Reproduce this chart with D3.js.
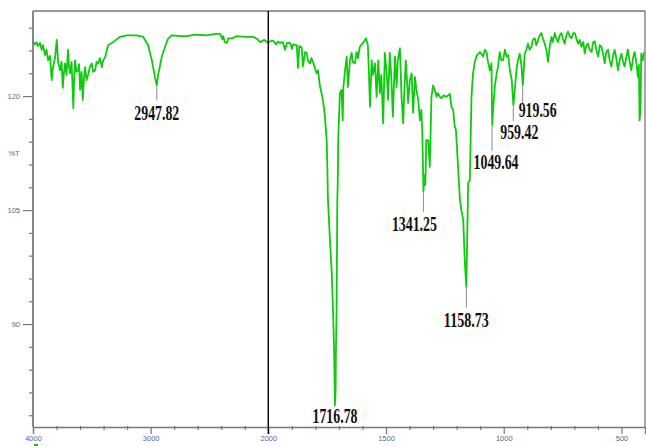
<!DOCTYPE html>
<html>
<head>
<meta charset="utf-8">
<script src="https://cdn.jsdelivr.net/npm/d3@7"></script>
<style>
  html, body { margin: 0; padding: 0; background: #fff; }
  svg { display: block; }
</style>
</head>
<body>
<script>
// ---- DATA ----
// spectrum, 4000-2000 cm-1 : [wavenumber, %T]
const spectrumHigh = [[4000,127.2],[3983,126.8],[3970,127.1],[3957,126.6],[3940,127.0],[3926,126.1],[3915,126.7],[3898,125.4],[3885,126.1],[3872,124.7],[3855,125.3],[3841,122.1],[3830,123.8],[3813,125.0],[3798,127.4],[3787,124.5],[3770,123.4],[3757,124.5],[3747,121.1],[3736,123.2],[3728,124.3],[3715,122.8],[3702,126.1],[3694,123.9],[3685,123.0],[3672,124.5],[3657,118.4],[3651,122.1],[3643,124.7],[3630,123.2],[3617,123.4],[3608,124.2],[3600,120.8],[3587,123.2],[3577,119.5],[3566,122.6],[3557,123.8],[3545,122.1],[3532,122.8],[3515,123.9],[3500,124.3],[3489,123.2],[3472,123.4],[3460,124.5],[3447,124.3],[3430,125.0],[3415,123.8],[3404,124.7],[3387,125.1],[3362,126.7],[3319,127.1],[3260,127.8],[3203,128.0],[3117,128.0],[3064,127.8],[3021,126.7],[2990,124.7],[2962,122.4],[2948,121.4],[2936,122.8],[2905,125.2],[2877,126.5],[2851,127.6],[2819,128.0],[2749,127.9],[2692,127.9],[2621,128.1],[2522,128.0],[2451,128.2],[2408,128.2],[2391,127.5],[2383,127.9],[2370,127.1],[2351,127.0],[2340,127.6],[2309,127.6],[2266,127.9],[2196,127.8],[2128,127.8],[2094,127.5],[2068,127.1],[2034,127.4],[2000,127.0]];
// spectrum, 2000-400 cm-1 : [wavenumber, %T]
const spectrumLow = [[1993,127.2],[1980,127.3],[1967,126.8],[1959,127.2],[1950,127.0],[1938,127.1],[1929,126.1],[1921,127.0],[1908,127.0],[1899,126.2],[1895,126.8],[1879,126.7],[1874,123.7],[1868,126.6],[1858,126.4],[1853,123.9],[1844,125.8],[1837,125.7],[1832,124.7],[1823,124.3],[1817,125.0],[1810,124.5],[1802,123.7],[1795,123.0],[1789,123.4],[1781,121.4],[1768,119.5],[1760,117.5],[1752,114.2],[1749,110.3],[1747,106.7],[1738,101.0],[1731,97.1],[1725,91.8],[1720,85.7],[1717,79.3],[1714,81.3],[1713,85.7],[1710,91.8],[1707,105.9],[1704,110.3],[1703,114.2],[1696,120.4],[1689,120.8],[1684,116.8],[1681,121.2],[1674,123.4],[1667,125.2],[1662,121.2],[1653,124.7],[1646,125.7],[1641,124.5],[1632,124.3],[1625,125.8],[1619,125.0],[1611,126.5],[1598,127.0],[1585,127.6],[1577,126.7],[1573,123.4],[1568,118.6],[1561,124.7],[1556,122.8],[1547,124.3],[1540,119.9],[1533,124.7],[1526,120.4],[1520,122.8],[1512,116.4],[1505,125.7],[1498,123.4],[1491,119.5],[1484,125.7],[1477,122.1],[1471,117.3],[1462,125.2],[1455,121.2],[1450,124.7],[1441,126.3],[1434,119.9],[1427,116.4],[1422,120.8],[1416,124.7],[1411,122.1],[1406,119.1],[1399,122.1],[1391,123.0],[1385,117.8],[1377,122.5],[1371,120.8],[1363,119.5],[1356,116.8],[1350,118.2],[1346,115.5],[1341,107.4],[1337,109.6],[1333,108.3],[1329,114.2],[1321,114.2],[1314,110.7],[1307,119.9],[1300,121.4],[1293,120.8],[1285,119.9],[1280,120.4],[1271,119.9],[1264,119.7],[1256,120.1],[1243,119.9],[1229,120.3],[1222,118.6],[1215,118.2],[1208,116.0],[1203,115.5],[1194,110.7],[1186,106.3],[1180,105.0],[1172,103.7],[1165,98.0],[1159,94.9],[1155,101.5],[1151,108.6],[1144,108.9],[1137,119.9],[1131,122.8],[1123,124.5],[1114,125.4],[1101,125.8],[1088,125.2],[1080,126.1],[1073,125.8],[1068,124.7],[1059,123.4],[1052,124.3],[1049,116.2],[1045,118.2],[1038,121.2],[1031,122.8],[1024,123.9],[1017,125.8],[1010,124.7],[1003,124.7],[995,126.1],[988,125.2],[981,125.4],[974,123.4],[966,122.1],[959,118.8],[953,120.8],[946,123.4],[940,124.7],[932,125.6],[925,124.1],[919,121.4],[915,123.4],[911,125.6],[904,126.1],[897,126.9],[890,126.1],[882,126.5],[877,127.4],[868,127.6],[862,126.7],[854,127.4],[847,128.0],[840,128.3],[834,127.6],[826,126.9],[819,126.1],[812,124.5],[804,126.7],[797,127.8],[792,127.1],[783,128.3],[777,127.6],[769,127.1],[762,128.0],[755,128.3],[749,127.6],[741,126.9],[734,128.0],[727,128.5],[720,127.9],[712,127.6],[705,128.3],[698,128.3],[690,127.4],[684,126.9],[677,127.4],[670,126.5],[662,127.1],[656,125.6],[649,126.7],[642,126.9],[635,126.1],[627,125.8],[620,127.1],[613,127.2],[607,126.1],[599,125.2],[592,126.7],[585,126.5],[577,125.4],[571,124.3],[565,125.8],[557,126.1],[550,124.7],[543,123.9],[535,125.4],[529,126.1],[522,125.0],[515,123.4],[508,124.7],[500,125.6],[493,124.5],[487,123.9],[480,125.0],[473,126.1],[465,124.5],[458,123.4],[451,125.0],[444,125.8],[438,124.7],[430,122.5],[426,124.1],[423,116.8],[419,118.2],[416,125.6],[410,124.7],[404,125.8]];

// peak annotations
const peakLabels = ["2947.82","1716.78","1341.25","1158.73","1049.64","959.42","919.56"];
const peakWn     = [2947.82, 1716.78, 1341.25, 1158.73, 1049.64, 959.42, 919.56];
const peakT      = [121.4, 79.3, 107.4, 94.9, 116.2, 118.8, 121.4];

// axis ticks
const xMajorTicks = [4000, 3000, 2000, 1500, 1000, 500];
const xMinorTicks = [3800,3600,3400,3200,2800,2600,2400,2200,1900,1800,1700,1600,1400,1300,1200,1100,900,800,700,600];
const yMajorTicks = [90, 105, 120];
const yMinorTicks = [78,81,84,87,93,96,99,102,108,111,114,117,123,126,129];
const yLabel = "%T";
const xUnit = "1/cm";

// ---- LAYOUT ----
const W = 646, H = 446;
const mLeft = 33, mRight = 645, mTop = 11, mBottom = 427;

const x = d3.scaleLinear().domain([4000, 2000, 400]).range([mLeft, 268.3, mRight]);
const y = d3.scaleLinear().domain([76.45, 131.2]).range([mBottom, mTop]);

const svg = d3.select("body").append("svg").attr("width", W).attr("height", H);

const axisColor = "#777";
const labelColor = "#55688c";

// frame (top and right)
svg.append("line").attr("x1", mLeft).attr("x2", mRight).attr("y1", mTop).attr("y2", mTop)
  .attr("stroke", axisColor).attr("stroke-width", 1.3);
svg.append("line").attr("x1", mRight).attr("x2", mRight).attr("y1", mTop).attr("y2", mBottom)
  .attr("stroke", axisColor).attr("stroke-width", 1.3);

// spectrum line
const line = d3.line().x(d => x(d[0])).y(d => y(d[1]));
const allPts = spectrumHigh.concat(spectrumLow);
svg.append("path").datum(allPts)
  .attr("d", line)
  .attr("fill", "none")
  .attr("stroke", "#0fcb0f")
  .attr("stroke-width", 1.8)
  .attr("stroke-linejoin", "round");

// x axis: minor
const gxMinor = svg.append("g").attr("transform", `translate(0,${mBottom - 1})`)
  .call(d3.axisBottom(x).tickValues(xMinorTicks).tickSize(4).tickFormat(""));
// x axis: major
const gx = svg.append("g").attr("transform", `translate(0,${mBottom})`)
  .call(d3.axisBottom(x).tickValues(xMajorTicks).tickSize(7).tickPadding(1.5).tickFormat(d3.format("d")));
[gx, gxMinor].forEach(g => {
  g.select(".domain").attr("stroke", axisColor).attr("stroke-width", 1.3);
  g.selectAll(".tick line").attr("stroke", axisColor).attr("stroke-width", 1.2);
});
gxMinor.select(".domain").remove();
gx.selectAll(".tick text").attr("fill", labelColor)
  .style("font-family", "Arial, 'Liberation Sans', sans-serif").style("font-size", "7.5px");

// y axis
const gyMinor = svg.append("g").attr("transform", `translate(${mLeft},0)`)
  .call(d3.axisLeft(y).tickValues(yMinorTicks).tickSize(4).tickFormat(""));
const gy = svg.append("g").attr("transform", `translate(${mLeft},0)`)
  .call(d3.axisLeft(y).tickValues(yMajorTicks).tickSize(10).tickPadding(3).tickFormat(d3.format("d")));
[gy, gyMinor].forEach(g => {
  g.select(".domain").attr("stroke", axisColor).attr("stroke-width", 1.3)
    .attr("d", `M0,${mTop}V${mBottom}`);
  g.selectAll(".tick line").attr("stroke", axisColor).attr("stroke-width", 1.2);
});
gy.selectAll(".tick text").attr("fill", labelColor)
  .style("font-family", "Arial, 'Liberation Sans', sans-serif").style("font-size", "7.5px");

// y label
svg.append("text").attr("x", 14).attr("y", 155.5).attr("text-anchor", "middle")
  .attr("fill", labelColor).style("font-family", "Arial, 'Liberation Sans', sans-serif")
  .style("font-size", "7.5px").text(yLabel);

// unit label (clipped at bottom right, as in the reference)
svg.append("text").attr("x", 636).attr("y", 451).attr("text-anchor", "middle")
  .attr("fill", labelColor).style("font-family", "Arial, 'Liberation Sans', sans-serif")
  .style("font-size", "7.5px").text(xUnit);
svg.append("rect").attr("x", 34).attr("y", 444).attr("width", 4).attr("height", 2).attr("fill", "#0fcb0f");

// vertical black divider at 2000
svg.append("line").attr("x1", x(2000)).attr("x2", x(2000)).attr("y1", mTop).attr("y2", mBottom + 7)
  .attr("stroke", "#000").attr("stroke-width", 1.4);

// peak annotations (layout: leader length, text dx, baseline offset)
const annLayout = [
  {len: 15, dx: 0,  by: 35},
  {len: 0,  dx: 0,  by: 18},
  {len: 20, dx: -9, by: 39},
  {len: 21, dx: 0,  by: 40},
  {len: 26, dx: 4,  by: 44},
  {len: 16, dx: 6,  by: 34},
  {len: 18, dx: 15, by: 31.5}
];
peakLabels.forEach((lab, i) => {
  const px = x(peakWn[i]), py = y(peakT[i]);
  const L = annLayout[i];
  if (L.len > 0) {
    svg.append("line").attr("x1", px).attr("x2", px).attr("y1", py + 1).attr("y2", py + L.len)
      .attr("stroke", "#8a8a8a").attr("stroke-width", 1);
  }
  svg.append("text").attr("x", px + L.dx).attr("y", py + L.by)
    .attr("text-anchor", "middle")
    .attr("textLength", lab.length === 7 ? 45 : 38)
    .attr("lengthAdjust", "spacingAndGlyphs")
    .attr("fill", "#111")
    .style("font-family", "'Liberation Serif', 'Times New Roman', serif")
    .style("font-weight", "bold")
    .style("font-size", "21px")
    .text(lab);
});
</script>
</body>
</html>
